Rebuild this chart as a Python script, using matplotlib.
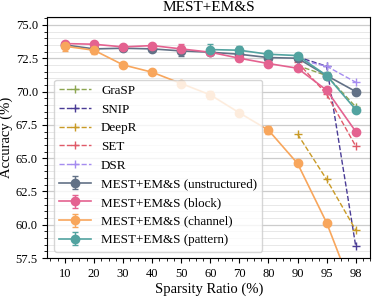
import matplotlib
matplotlib.use('Agg')
from matplotlib import pyplot as plt
from matplotlib.ticker import MultipleLocator, AutoMinorLocator
import numpy as np

plt.rcParams['font.family'] = ['Liberation Serif', 'DejaVu Serif']

sparsity = ['10', '20', '30', '40', '50', '60', '70', '80', '90', '95', '98']

# baselines (only at 90, 95, 98)
base_idx = [8, 9, 10]
grasp = [71.95, 71.2, 68.85]
snip = [72.6, 71.9, 58.4]
deepr = [66.8, 63.4, 59.6]
set_ = [72.2, 69.8, 65.9]
dsr = [72.4, 71.9, 70.7]

unstructured = [73.5, 73.2, 73.25, 73.2, 73.05, 72.95, 72.8, 72.55, 72.5, 71.2, 70.0]
unstructured_err = [0.1, 0.1, 0.1, 0.15, 0.4, 0.1, 0.1, 0.1, 0.1, 0.1, 0.1]
block = [73.6, 73.55, 73.35, 73.45, 73.2, 72.95, 72.5, 72.1, 71.75, 70.1, 67.0]
block_err = [0.1, 0.1, 0.15, 0.1, 0.35, 0.15, 0.2, 0.1, 0.1, 0.1, 0.15]
channel = [73.4, 73.1, 72.0, 71.45, 70.6, 69.75, 68.4, 67.1, 64.6, 60.15, 54.5]
channel_err = [0.35, 0.3, 0.1, 0.1, 0.1, 0.3, 0.1, 0.3, 0.1, 0.1, 0.1]
pattern_idx = [5, 6, 7, 8, 9, 10]
pattern = [73.15, 73.1, 72.8, 72.7, 71.2, 68.65]
pattern_err = [0.4, 0.3, 0.15, 0.15, 0.25, 0.1]

fig, ax = plt.subplots(figsize=(3.74, 2.97), dpi=100)
x = np.arange(len(sparsity))

ax.plot(base_idx, grasp, '--', marker='+', color='#8ca650', lw=1, ms=6, label='GraSP')
ax.plot(base_idx, snip, '--', marker='+', color='#4a3c96', lw=1, ms=6, label='SNIP')
ax.plot(base_idx, deepr, '--', marker='+', color='#c99a26', lw=1, ms=6, label='DeepR')
ax.plot(base_idx, set_, '--', marker='+', color='#e05a68', lw=1, ms=6, label='SET')
ax.plot(base_idx, dsr, '--', marker='+', color='#a58cf0', lw=1, ms=6, label='DSR')

ax.errorbar(x, unstructured, yerr=unstructured_err, color='#627186', marker='o', ms=6,
            lw=1.2, capsize=2, elinewidth=1, label='MEST+EM&S (unstructured)')
ax.errorbar(x, block, yerr=block_err, color='#e46290', marker='o', ms=6,
            lw=1.2, capsize=2, elinewidth=1, label='MEST+EM&S (block)')
ax.errorbar(x, channel, yerr=channel_err, color='#f8a65c', marker='o', ms=6,
            lw=1.2, capsize=2, elinewidth=1, label='MEST+EM&S (channel)')
ax.errorbar(pattern_idx, pattern, yerr=pattern_err, color='#52a3a0', marker='o', ms=6,
            lw=1.2, capsize=2, elinewidth=1, label='MEST+EM&S (pattern)')

ax.set_xticks(x)
ax.set_xticklabels(sparsity)
ax.xaxis.set_minor_locator(AutoMinorLocator(4))
ax.yaxis.set_major_locator(MultipleLocator(2.5))
ax.yaxis.set_minor_locator(MultipleLocator(0.5))
ax.set_ylim(57.5, 75.6)
ax.set_xlim(-0.6, 10.5)
ax.grid(axis='y', which='major', color='#cccccc', lw=0.9)
ax.grid(axis='y', which='minor', color='#e4e4e4', lw=0.6)
ax.set_axisbelow(True)
ax.tick_params(labelsize=9, direction='out')
ax.tick_params(which='minor', length=2)
ax.set_xlabel('Sparsity Ratio (%)', fontsize=10.5, labelpad=2)
ax.set_ylabel('Accuracy (%)', fontsize=10.5, labelpad=2)
ax.set_title('MEST+EM&S', fontsize=11, pad=4)
ax.legend(loc='lower left', fontsize=9.4, framealpha=0.8, handlelength=2.4,
          labelspacing=0.5, borderaxespad=0.5)

plt.subplots_adjust(left=0.127, right=0.99, top=0.943, bottom=0.131)
plt.savefig('out.png', dpi=100)
